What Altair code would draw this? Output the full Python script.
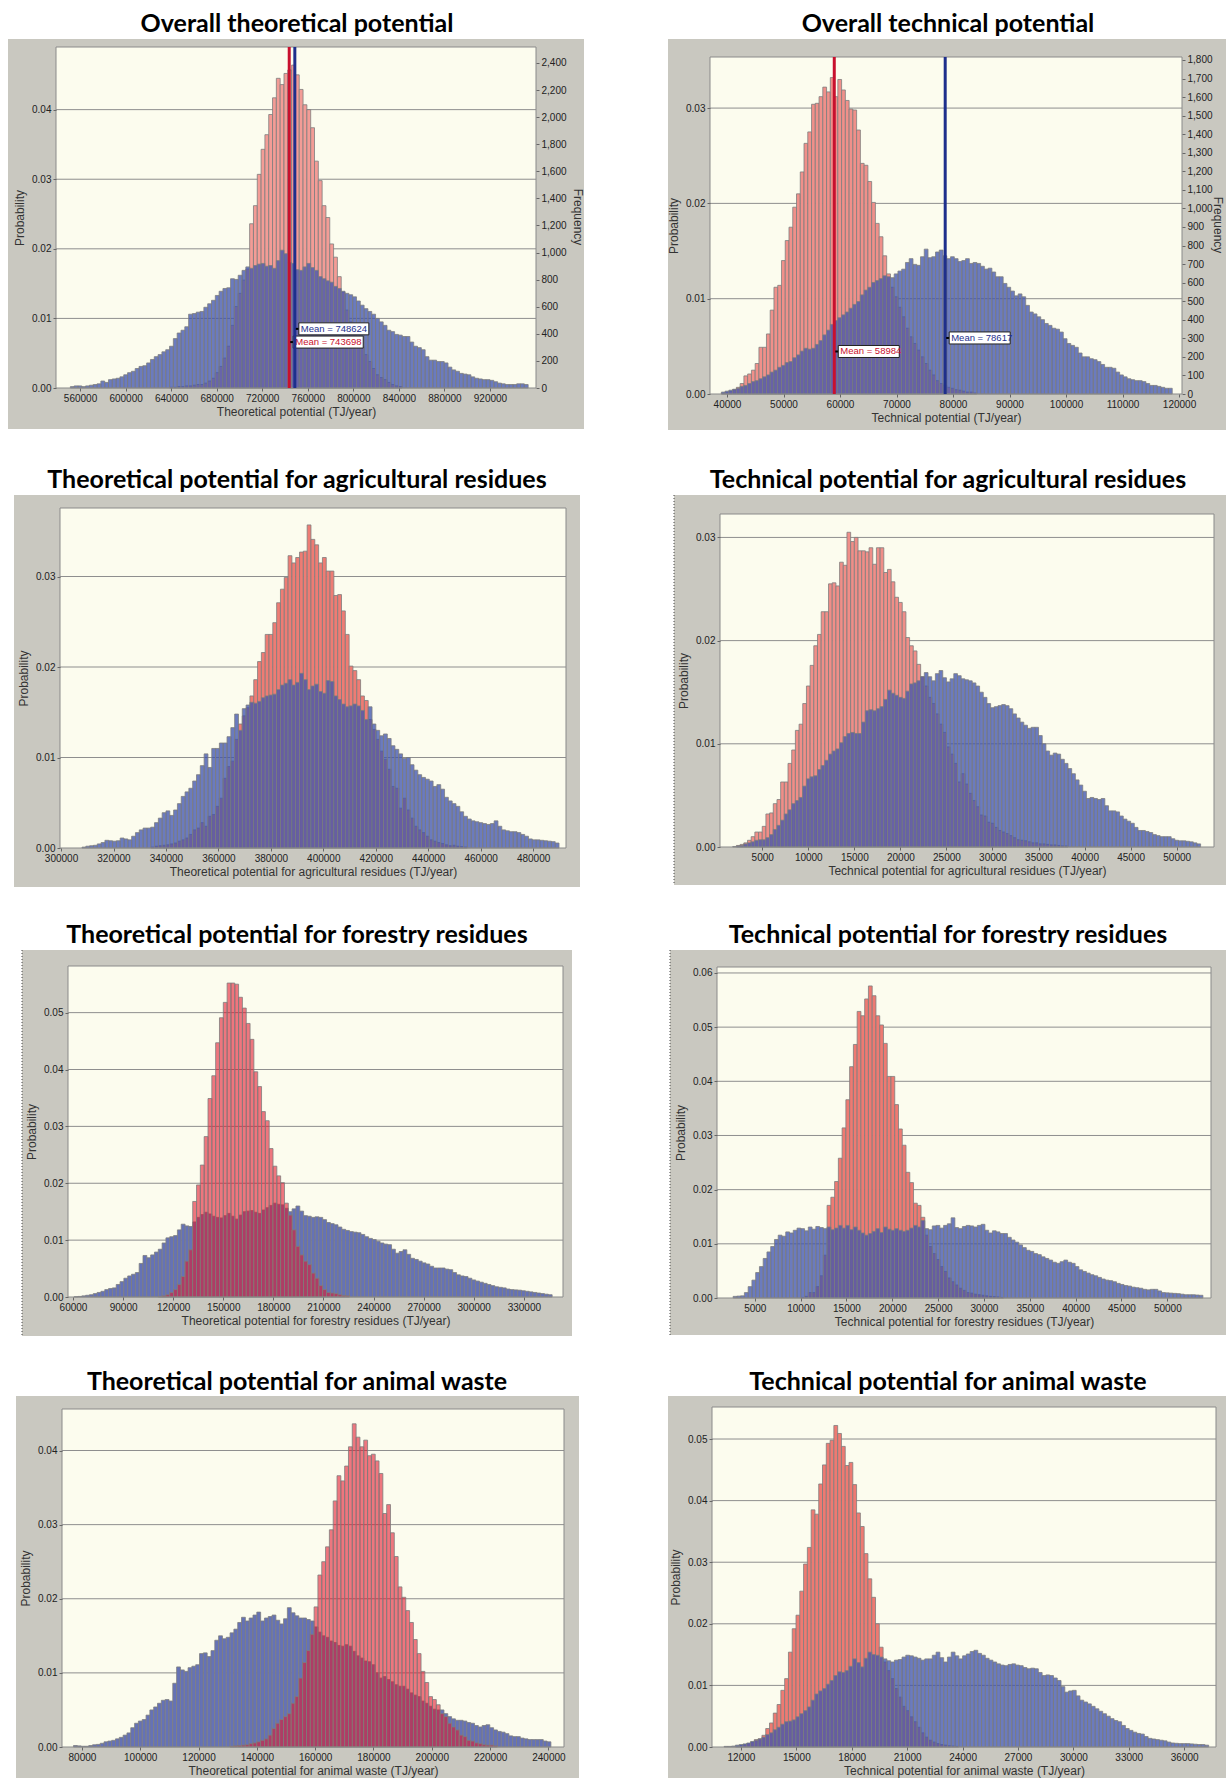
import altair as alt
import pandas as pd

# ------------------------------------------------------------------ data
titles = ["Overall theoretical potential", "Overall technical potential",
          "Theoretical potential for agricultural residues", "Technical potential for agricultural residues",
          "Theoretical potential for forestry residues", "Technical potential for forestry residues",
          "Theoretical potential for animal waste", "Technical potential for animal waste"]
x_titles = ["Theoretical potential (TJ/year)", "Technical potential (TJ/year)",
            "Theoretical potential for agricultural residues (TJ/year)",
            "Technical potential for agricultural residues (TJ/year)",
            "Theoretical potential for forestry residues (TJ/year)",
            "Technical potential for forestry residues (TJ/year)",
            "Theoretical potential for animal waste (TJ/year)",
            "Technical potential for animal waste (TJ/year)"]

# histogram bins (TJ/year): first bin edge, bin width, first bin of the red series
bin_start = [551500, 39000, 308000, 1800, 60700, 2636, 77110, 11088]
bin_width = [3350, 665, 1455, 400, 2290, 410, 1310, 205]
red_first_bin = [26, 0, 18, 1, 22, 18, 41, 3]

# probabilities per bin, in per-mille
blue_1 = [0.2,0.3,0.3,0.2,0.3,0.4,0.5,0.6,1.0,0.8,1.2,1.3,1.4,1.6,1.9,2.2,2.4,2.8,3.1,3.2,
          3.6,4.1,4.5,4.8,5.2,5.5,6.0,7.1,7.9,8.3,8.8,10.6,10.7,10.9,11.0,11.6,12.1,12.6,13.3,13.9,
          14.3,14.4,15.7,15.6,16.2,16.9,17.4,17.2,17.6,17.8,17.9,17.5,17.6,17.2,18.3,19.8,19.3,18.0,17.9,17.0,
          16.9,17.4,17.9,17.3,16.9,16.0,15.7,15.4,15.2,14.6,14.3,13.9,13.6,13.4,13.1,12.5,11.9,11.4,11.0,10.6,
          10.0,9.5,9.0,8.3,8.1,7.7,7.6,7.4,7.4,6.6,6.0,5.8,5.5,4.5,4.0,4.0,3.8,3.8,3.6,3.0,
          2.6,2.4,2.1,2.0,1.9,1.6,1.4,1.3,1.2,1.2,1.1,0.9,0.7,0.6,0.5,0.5,0.5,0.6,0.6,0.5]
red_1 = [0.1,0.1,0.2,0.2,0.3,0.3,0.4,0.5,0.5,0.7,1.0,1.4,2.2,3.1,4.3,6.0,9.0,11.7,13.6,15.5,
         17.1,23.6,26.2,30.7,34.3,36.4,39.3,41.7,44.5,43.6,45.2,45.7,46.4,45.0,42.9,40.7,40.0,37.4,32.6,29.8,
         26.2,24.5,20.7,18.8,16.0,13.8,11.2,9.5,8.3,7.0,6.0,4.8,3.8,2.8,1.9,1.5,1.2,0.8,0.5,0.3,0.2]
blue_2 = [0.2,0.3,0.4,0.5,0.6,0.8,0.9,1.1,1.3,1.4,1.6,1.8,2.0,2.3,2.5,2.8,3.0,3.3,3.4,3.8,
          4.1,4.5,4.8,4.7,4.8,5.2,5.6,6.2,6.7,7.3,7.7,8.0,8.3,8.6,9.0,9.4,9.7,10.4,10.9,11.2,
          11.7,11.9,12.1,12.4,12.3,12.2,12.6,12.9,13.1,13.8,14.2,13.6,13.5,14.4,15.2,14.3,14.4,14.9,15.1,14.5,
          14.2,14.4,14.2,13.9,14.0,14.2,13.7,13.8,13.7,13.4,13.1,13.2,12.8,12.3,12.3,11.6,11.2,10.8,10.3,10.5,
          10.2,9.3,8.6,8.4,8.1,7.8,7.4,7.2,6.9,6.8,6.5,5.8,5.3,5.1,4.9,4.3,3.9,3.9,3.7,3.6,
          3.4,3.1,2.8,2.8,2.7,2.3,2.0,1.8,1.6,1.5,1.4,1.4,1.3,1.1,0.9,0.9,0.8,0.7,0.6,0.6]
red_2 = [0.1,0.2,0.3,0.45,0.7,1.1,1.9,2.1,2.5,3.2,4.9,4.9,6.3,8.8,11.2,11.4,14.0,16.1,17.5,19.6,
         21.0,23.3,26.3,27.5,30.4,30.5,31.2,32.2,31.7,33.2,31.2,33.0,31.9,30.8,29.9,29.8,27.7,24.2,24.0,22.3,
         20.1,17.9,16.5,14.5,12.6,11.2,10.2,9.1,8.1,6.9,6.0,5.3,4.6,3.9,3.2,2.5,2.0,1.4,1.1,0.9,
         0.7,0.6,0.45,0.4,0.3,0.2,0.2,0.1]
blue_3 = [0.1,0.2,0.25,0.3,0.45,0.6,0.85,0.8,0.75,0.8,1.1,1.0,0.9,1.3,1.7,2.0,2.2,2.2,2.3,2.8,
          3.3,3.9,4.1,3.6,4.2,4.9,5.7,6.2,6.6,7.4,8.1,9.1,10.4,8.9,11.0,11.0,11.6,11.6,12.3,13.3,
          14.8,13.0,15.4,15.8,16.1,16.0,16.2,16.6,16.8,16.9,17.0,17.5,18.0,18.2,18.6,18.0,18.3,19.3,18.6,17.5,
          17.9,18.1,17.3,17.1,18.5,18.4,16.8,16.4,15.9,15.6,15.7,15.9,15.7,15.2,14.2,15.6,13.7,13.0,12.4,12.6,
          12.1,11.3,10.9,10.4,9.9,10.0,9.2,8.6,8.1,7.8,7.6,7.4,6.8,7.0,6.5,5.6,5.2,4.9,4.6,4.0,
          3.5,3.2,3.0,2.9,2.8,2.7,2.6,2.7,3.0,2.4,2.0,1.9,1.8,1.8,1.7,1.5,1.3,1.0,0.9,0.9,
          0.85,0.8,0.75,0.7,0.55]
red_3 = [0.1,0.2,0.25,0.3,0.35,0.45,0.55,0.75,0.9,1.1,1.5,2.0,2.2,2.8,2.4,3.5,3.7,4.6,5.5,7.7,
         9.0,9.6,12.0,13.7,14.6,15.5,16.8,18.6,20.6,21.6,23.6,23.6,24.9,27.1,28.6,29.9,32.3,31.5,32.1,32.7,
         32.8,35.7,34.1,33.5,31.5,32.1,30.6,30.6,27.9,28.0,26.2,23.6,20.1,19.6,18.6,16.8,16.3,14.2,13.1,12.0,
         10.7,9.8,8.7,6.8,6.6,4.4,5.5,4.2,3.3,2.4,2.0,1.7,1.3,0.9,0.75,0.6,0.5,0.35,0.25,0.3,
         0.2,0.15,0.1]
blue_4 = [0.05,0.1,0.15,0.3,0.4,0.5,0.65,0.7,0.7,0.9,1.2,1.7,2.1,2.6,3.2,3.6,4.2,4.5,4.8,5.9,
          6.6,6.8,6.9,7.5,7.9,8.4,9.0,9.3,9.5,10.1,10.7,11.0,11.1,11.0,11.0,12.1,13.2,13.3,13.2,13.4,
          13.6,14.3,15.2,14.9,14.7,14.5,14.4,15.1,15.8,15.9,16.1,16.5,16.9,16.5,16.1,16.8,17.1,16.4,16.0,16.3,
          16.8,16.6,16.3,16.2,16.1,15.9,15.6,15.0,14.5,13.9,13.5,13.6,13.7,13.8,13.7,13.4,12.9,12.5,12.1,11.8,
          11.5,11.6,11.6,10.8,10.0,9.3,8.9,9.1,9.0,8.5,8.1,7.6,7.1,6.5,6.0,5.4,4.7,4.8,4.7,4.6,
          4.7,4.0,3.5,3.5,3.4,3.0,2.7,2.5,2.3,1.9,1.6,1.6,1.5,1.4,1.2,1.1,1.0,1.0,1.0,0.8,
          0.65,0.6,0.6,0.55,0.5,0.4,0.3]
red_4 = [0.15,0.25,0.4,0.65,1.0,1.45,1.45,2.0,3.2,3.3,4.2,4.6,6.3,6.3,8.1,9.4,11.3,11.9,13.9,15.6,
         17.6,19.5,20.6,22.8,22.8,25.5,25.6,25.3,27.6,27.3,30.5,29.6,30.0,28.7,28.7,28.6,29.0,27.4,29.0,29.0,
         26.6,26.9,25.7,24.2,23.7,22.8,20.3,19.5,19.0,17.7,16.5,15.6,14.5,13.9,12.9,11.9,11.1,9.7,9.0,8.1,
         6.3,7.1,6.1,5.2,4.5,3.9,3.1,3.0,2.4,2.3,1.9,1.6,1.45,1.3,1.1,0.9,0.7,0.65,0.6,0.5,
         0.4,0.4,0.3,0.3,0.25,0.2,0.2,0.15,0.1,0.1]
blue_5 = [0.05,0.1,0.2,0.3,0.4,0.6,0.8,1.0,1.3,1.5,1.6,2.2,2.7,3.3,3.7,4.0,4.3,5.9,7.3,6.9,
          7.4,7.9,8.4,9.5,10.4,10.6,10.8,11.8,12.8,12.5,12.4,13.2,14.0,14.5,14.9,14.6,14.2,14.0,13.9,14.3,
          14.7,14.2,13.7,14.4,15.0,15.1,15.2,14.9,14.7,15.3,15.7,16.1,16.5,16.3,16.2,15.6,15.0,15.5,16.0,15.1,
          14.3,14.2,14.0,14.1,14.0,13.6,13.1,12.9,12.7,12.3,11.9,11.7,11.5,11.4,11.3,11.0,10.6,10.3,10.1,9.8,
          9.5,9.3,9.2,8.4,7.7,8.0,8.3,7.5,6.8,6.6,6.3,6.0,5.8,5.4,5.1,5.1,5.1,4.9,4.8,4.3,
          3.9,3.7,3.6,3.3,3.0,2.8,2.6,2.4,2.2,2.0,1.8,1.7,1.6,1.4,1.3,1.25,1.2,1.1,1.0,0.9,
          0.8,0.7,0.6,0.5,0.4]
red_5 = [0.1,0.2,0.4,0.8,1.3,2.2,3.6,6.3,8.3,16.8,19.7,23.2,28.2,34.9,38.9,44.7,49.1,51.8,55.2,55.2,
         55.0,52.7,50.8,48.1,45.3,39.6,37.0,32.6,31.0,26.1,23.0,21.3,20.1,16.5,14.4,11.8,8.9,7.4,6.3,5.7,
         4.2,3.3,2.0,1.3,0.8,0.7,0.6,0.4,0.25,0.2]
blue_6 = [0.3,0.35,0.4,1.0,2.1,3.3,4.7,5.8,7.3,8.5,9.5,10.8,11.6,11.4,12.2,12.0,12.5,12.9,12.8,12.4,
          13.1,12.7,13.2,13.0,12.8,13.1,12.6,12.9,13.4,12.9,13.4,12.6,13.1,12.5,12.0,11.6,11.9,12.3,12.8,12.1,
          13.1,12.7,12.5,12.8,12.5,12.3,12.5,12.9,13.4,13.1,14.3,12.8,12.6,13.3,13.4,12.9,13.4,13.7,14.8,13.0,
          12.8,13.2,13.4,13.3,13.1,13.4,13.6,12.5,12.0,12.4,12.2,11.9,11.9,11.2,10.7,10.3,9.8,9.3,8.8,8.6,
          8.2,8.0,7.6,7.3,7.0,6.6,6.4,6.7,7.0,6.6,6.4,5.8,5.2,4.9,4.6,4.3,4.1,3.8,3.5,3.3,
          3.2,3.0,2.7,2.5,2.3,2.2,2.0,1.9,1.8,1.6,1.5,1.6,1.6,1.3,1.0,0.95,0.9,0.85,0.8,0.7,
          0.6,0.6,0.6,0.55,0.5]
red_6 = [0.1,0.3,1.0,1.0,2.1,4.1,7.9,17.1,18.6,21.5,25.8,31.4,36.6,42.7,46.8,52.9,52.1,55.2,57.6,55.8,
         52.1,50.4,47.0,40.9,40.9,35.7,31.2,28.2,23.2,21.3,17.5,17.1,14.9,11.6,9.5,8.2,7.1,5.8,4.9,3.7,
         3.0,2.4,1.8,1.4,1.0,0.9,0.7,0.6,0.5,0.4,0.3,0.25,0.2,0.1]
blue_7 = [0.2,0.15,0.1,0.1,0.2,0.3,0.35,0.5,0.7,0.8,0.9,1.1,1.3,1.6,1.9,2.6,3.2,3.5,3.7,4.3,
          5.0,5.4,5.9,6.3,6.4,6.2,8.6,10.8,10.4,10.2,10.7,10.9,11.1,12.6,12.7,12.2,13.0,14.4,15.0,14.6,
          14.8,15.4,15.9,16.8,17.5,17.0,17.4,17.8,18.2,17.0,17.4,17.6,17.8,17.1,16.6,17.3,18.8,18.1,17.7,17.4,
          17.4,17.2,17.0,16.2,15.5,15.0,14.8,14.3,14.1,13.7,13.6,13.8,13.6,12.9,12.3,12.0,11.6,11.5,11.1,10.0,
          9.3,9.5,9.1,8.8,8.4,8.2,8.2,7.8,7.3,7.0,6.8,6.2,5.9,5.5,5.1,5.0,5.0,4.5,4.1,3.8,
          3.6,3.6,3.5,3.3,3.2,2.9,2.7,2.9,3.0,2.6,2.3,2.1,2.0,1.8,1.5,1.4,1.4,1.2,1.1,1.0,
          1.0,1.0,1.0,0.8,0.7]
red_7 = [0.1,0.15,0.2,0.25,0.3,0.45,0.55,0.7,0.9,1.1,1.6,2.5,3.2,3.7,4.1,4.5,5.9,6.8,9.3,11.4,
         13.0,15.2,18.9,23.2,25.0,27.0,29.3,33.2,36.6,35.9,37.9,40.5,43.6,41.8,40.5,41.4,39.3,39.5,38.6,36.9,
         31.5,32.7,28.9,25.7,21.6,20.2,18.4,16.8,14.5,12.6,10.2,8.7,6.8,6.4,5.7,4.5,4.1,3.2,2.7,2.3,
         1.6,1.4,0.9,0.8,0.55,0.45,0.3,0.25,0.25,0.15]
blue_8 = [0.1,0.1,0.15,0.3,0.4,0.5,0.65,0.9,1.1,1.3,1.6,2.0,2.3,2.8,3.2,3.7,4.1,4.2,4.4,4.9,
          5.4,5.9,6.5,7.6,8.6,9.1,9.5,10.2,10.8,11.6,12.2,12.1,12.4,13.1,14.3,13.7,13.0,14.4,15.4,15.0,
          14.9,14.6,14.3,14.0,13.8,14.1,14.2,14.6,14.9,14.8,14.6,14.4,14.1,14.3,14.3,14.9,15.4,14.5,13.8,14.6,
          15.4,14.8,14.3,14.8,15.1,15.5,15.7,15.2,14.9,14.4,14.1,13.8,13.5,13.3,13.2,13.4,13.5,13.3,13.2,12.9,
          12.7,12.8,12.7,12.1,11.6,11.7,11.6,11.2,10.8,9.8,8.9,9.1,9.2,8.3,7.6,7.3,7.0,6.6,6.2,5.8,
          5.4,5.0,4.6,4.3,4.1,3.5,3.0,2.7,2.4,2.2,2.1,1.7,1.4,1.3,1.2,1.1,1.0,0.8,0.65,0.6,
          0.55,0.55,0.55,0.5,0.45,0.4,0.4,0.3]
red_8 = [0.15,0.25,0.4,0.55,0.8,1.2,1.35,1.9,3.0,3.9,5.5,6.9,9.2,11.1,15.4,19.2,21.4,25.3,29.7,32.4,
         38.5,37.8,42.7,45.8,49.3,49.8,52.2,50.9,48.8,45.7,46.2,42.6,38.0,35.8,31.4,27.3,24.3,20.0,16.2,13.8,
         12.4,11.1,9.5,8.1,6.6,5.9,4.9,4.1,3.2,2.3,1.6,1.1,0.8,0.55,0.4,0.3,0.2,0.15,0.1]
blue_series = [blue_1, blue_2, blue_3, blue_4, blue_5, blue_6, blue_7, blue_8]
red_series = [red_1, red_2, red_3, red_4, red_5, red_6, red_7, red_8]

x_domain = [[538900, 960400], [36988, 120530], [299600, 492540], [414, 54053],
            [57000, 353460], [876, 54768], [73168, 245355], [10434, 37724]]
x_ticks = [[560000, 600000, 640000, 680000, 720000, 760000, 800000, 840000, 880000, 920000],
           [40000, 50000, 60000, 70000, 80000, 90000, 100000, 110000, 120000],
           [300000, 320000, 340000, 360000, 380000, 400000, 420000, 440000, 460000, 480000],
           [5000, 10000, 15000, 20000, 25000, 30000, 35000, 40000, 45000, 50000],
           [60000, 90000, 120000, 150000, 180000, 210000, 240000, 270000, 300000, 330000],
           [5000, 10000, 15000, 20000, 25000, 30000, 35000, 40000, 45000, 50000],
           [80000, 100000, 120000, 140000, 160000, 180000, 200000, 220000, 240000],
           [12000, 15000, 18000, 21000, 24000, 27000, 30000, 33000, 36000]]
y_max = [0.049, 0.03536, 0.03757, 0.03227, 0.0582, 0.0611, 0.0456, 0.0552]
y_ticks = [[0, 0.01, 0.02, 0.03, 0.04], [0, 0.01, 0.02, 0.03], [0, 0.01, 0.02, 0.03],
           [0, 0.01, 0.02, 0.03], [0, 0.01, 0.02, 0.03, 0.04, 0.05],
           [0, 0.01, 0.02, 0.03, 0.04, 0.05, 0.06], [0, 0.01, 0.02, 0.03, 0.04],
           [0, 0.01, 0.02, 0.03, 0.04, 0.05]]
freq_max = {0: 2518, 1: 1816}
freq_ticks = {0: [0, 200, 400, 600, 800, 1000, 1200, 1400, 1600, 1800, 2000, 2200, 2400],
              1: [0, 100, 200, 300, 400, 500, 600, 700, 800, 900, 1000, 1100, 1200, 1300,
                  1400, 1500, 1600, 1700, 1800]}
# means: (red, blue) and the probability level of their labels
mean_values = {0: (743698, 748624), 1: (58984, 78617)}
mean_label_level = {0: (0.0066, 0.0085), 1: (0.00446, 0.00588)}

# ------------------------------------------------------------------ layout (page pixels)
PLOT = [(56, 47, 536, 388), (710, 57, 1182, 394), (60, 508, 566, 848), (720, 514, 1214, 847),
        (68, 966, 563, 1297), (717, 967, 1211, 1298), (62, 1409, 564, 1747), (712, 1407, 1216, 1747)]
FRAME = [(8, 39, 584, 429), (668, 39, 1226, 430), (14, 495, 580, 887), (674, 495, 1226, 885),
         (22, 950, 572, 1336), (670, 950, 1226, 1335), (16, 1396, 579, 1778), (668, 1396, 1226, 1778)]
TITLE_POS = [(297, 32), (948, 32), (297, 488), (948, 488), (297, 943), (948, 943), (297, 1390), (948, 1390)]
DOTTED = [False, False, False, True, True, True, False, False]
FREQ_TITLE = {0: (578, 217), 1: (1218, 225)}
COL_X = [56, 710]
ROW_Y = [47, 500, 953, 1406]
CELL_W, CELL_H = 510, 348

FRAME_FILL = "#C9C8C0"
PLOT_FILL = "#FCFCEE"
GRID = "#8E8E8E"
BAR_STROKE = "#7E7E7E"
red_on_top = [False, False, False, False, True, False, True, False]
red_fill = ["#F39C96", "#F0908A", "#EE7C74", "#F08E88", "#E4142D", "#EE7A72", "#E4142D", "#EE7A72"]
BLUE_TOP, BLUE_TOP_OP = "#3E53B0", 0.77
BLUE_BOTTOM = "#6572B6"
RED_TOP_OP = 0.58
LINE_RED, LINE_BLUE = "#C8102E", "#1E2F8C"

FONT = "Liberation Sans"


def bars_df(start, w, first, vals):
    rows = []
    for k, v in enumerate(vals):
        x0 = start + (first + k) * w
        rows.append({"x0": x0, "x1": x0 + w, "p": v / 1000.0, "z": 0.0})
    return pd.DataFrame(rows)


one = pd.DataFrame({"a": [1]})


def make_panel(i):
    c, r = i % 2, i // 2
    cx, cy = COL_X[c], ROW_Y[r]
    px0, py0, px1, py1 = PLOT[i]
    xr = [px0 - cx, px1 - cx]
    yr = [py1 - cy, py0 - cy]
    xs = alt.Scale(domain=x_domain[i], range=xr, nice=False, zero=False)
    ys = alt.Scale(domain=[0, y_max[i]], range=yr, nice=False, zero=False)
    ax_x = alt.Axis(title=x_titles[i], values=x_ticks[i], format="d", orient="bottom",
                    offset=-(CELL_H - yr[0]), grid=False, domain=False, labelFlush=False,
                    labelOverlap=False, tickSize=3, tickColor="#666666", labelFontSize=10,
                    labelFont=FONT, labelColor="#222222", titleFont=FONT, titleFontSize=12,
                    titleFontWeight="normal", titleColor="#333333", labelPadding=2,
                    titlePadding=3, zindex=1)
    ax_y = alt.Axis(title="Probability", values=y_ticks[i], format=".2f", orient="left",
                    offset=-xr[0], grid=False, domain=False, labelFlush=False,
                    labelOverlap=False, tickSize=3, tickColor="#666666", labelFontSize=10,
                    labelFont=FONT, labelColor="#222222", titleFont=FONT, titleFontSize=12,
                    titleFontWeight="normal", titleColor="#333333", labelPadding=2,
                    titlePadding=5, zindex=1)

    fx0, fy0, fx1, fy1 = FRAME[i]
    layers = []
    if i == 0:
        # white anchor at the page's top-left corner
        layers.append(alt.Chart(one).mark_rect(fill="white").encode(
            x=alt.value(-cx), x2=alt.value(-cx + 2), y=alt.value(-cy), y2=alt.value(-cy + 2)))
    layers.append(alt.Chart(one).mark_rect(fill=FRAME_FILL).encode(
        x=alt.value(fx0 - cx), x2=alt.value(fx1 - cx), y=alt.value(fy0 - cy), y2=alt.value(fy1 - cy)))
    if DOTTED[i]:
        layers.append(alt.Chart(one).mark_rule(color="#444444", strokeDash=[1, 2], strokeWidth=1).encode(
            x=alt.value(fx0 - cx), y=alt.value(fy0 - cy), y2=alt.value(fy1 - cy)))
    layers.append(alt.Chart(one).mark_rect(fill=PLOT_FILL).encode(
        x=alt.value(xr[0]), x2=alt.value(xr[1]), y=alt.value(yr[1]), y2=alt.value(yr[0])))
    grid_df = pd.DataFrame({"g": [t for t in y_ticks[i] if t > 0]})
    layers.append(alt.Chart(grid_df).mark_rule(color=GRID, strokeWidth=1).encode(
        y=alt.Y("g:Q", scale=ys, axis=ax_y), x=alt.value(xr[0]), x2=alt.value(xr[1])))

    blue_df = bars_df(bin_start[i], bin_width[i], 0, blue_series[i])
    red_df = bars_df(bin_start[i], bin_width[i], red_first_bin[i], red_series[i])

    def bar_layer(df, fill, op):
        return alt.Chart(df).mark_rect(fill=fill, fillOpacity=op, stroke=BAR_STROKE,
                                       strokeWidth=0.8).encode(
            x=alt.X("x0:Q", scale=xs, axis=ax_x), x2="x1",
            y=alt.Y("p:Q", scale=ys, axis=ax_y), y2="z")

    if red_on_top[i]:
        layers.append(bar_layer(blue_df, BLUE_BOTTOM, 1.0))
        layers.append(bar_layer(red_df, red_fill[i], RED_TOP_OP))
    else:
        layers.append(bar_layer(red_df, red_fill[i], 1.0))
        layers.append(bar_layer(blue_df, BLUE_TOP, BLUE_TOP_OP))

    # plot border
    layers.append(alt.Chart(one).mark_rect(fillOpacity=0, stroke="#8A8A8A", strokeWidth=1).encode(
        x=alt.value(xr[0]), x2=alt.value(xr[1]), y=alt.value(yr[1]), y2=alt.value(yr[0])))

    if i in mean_values:
        rm, bm = mean_values[i]
        rl, bl = mean_label_level[i]
        for m, lvl, col in [(rm, rl, LINE_RED), (bm, bl, LINE_BLUE)]:
            mdf = pd.DataFrame({"m": [m], "ly": [lvl], "txt": [f"Mean = {m}"]})
            layers.append(alt.Chart(mdf).mark_rule(color=col, strokeWidth=3).encode(
                x=alt.X("m:Q", scale=xs, axis=ax_x), y=alt.value(yr[1]), y2=alt.value(yr[0])))
            layers.append(alt.Chart(mdf).mark_rule(color="black", strokeWidth=2, xOffset=1,
                                                   x2Offset=5).encode(
                x=alt.X("m:Q", scale=xs, axis=ax_x), x2="m",
                y=alt.Y("ly:Q", scale=ys, axis=ax_y)))
            box_w = 70 if i == 0 else 61
            layers.append(alt.Chart(mdf).mark_rect(fill="white", stroke="#222222", strokeWidth=1,
                                                   xOffset=4, x2Offset=4 + box_w, yOffset=-6,
                                                   y2Offset=6).encode(
                x=alt.X("m:Q", scale=xs, axis=ax_x), x2="m",
                y=alt.Y("ly:Q", scale=ys, axis=ax_y), y2="ly"))
            layers.append(alt.Chart(mdf).mark_text(align="left", baseline="middle", dx=6,
                                                   font=FONT, fontSize=9.5, color=col).encode(
                x=alt.X("m:Q", scale=xs, axis=ax_x), y=alt.Y("ly:Q", scale=ys, axis=ax_y),
                text="txt:N"))
        ftx, fty = FREQ_TITLE[i]
        layers.append(alt.Chart(one).mark_text(angle=90, align="center", baseline="middle",
                                               font=FONT, fontSize=12, color="#333333").encode(
            x=alt.value(ftx - cx), y=alt.value(fty - cy), text=alt.value("Frequency")))

    tx, ty = TITLE_POS[i]
    layers.append(alt.Chart(one).mark_text(font="Lato", fontWeight="bold", fontSize=25,
                                           align="center", baseline="alphabetic",
                                           color="black").encode(
        x=alt.value(tx - cx), y=alt.value(ty - cy), text=alt.value(titles[i])))

    main = alt.layer(*layers)
    if i in freq_max:
        fdf = pd.DataFrame({"f": [0]})
        freq = alt.Chart(fdf).mark_point(opacity=0).encode(
            y=alt.Y("f:Q", scale=alt.Scale(domain=[0, freq_max[i]], range=yr, nice=False, zero=False),
                    axis=alt.Axis(orient="right", values=freq_ticks[i], format=",d", title=None,
                                  offset=-(CELL_W - xr[1]), grid=False, domain=False,
                                  labelFlush=False, labelOverlap=False, tickSize=3,
                                  tickColor="#666666", labelFontSize=10, labelFont=FONT,
                                  labelColor="#222222", labelPadding=2, zindex=1)))
        panel = alt.layer(main, freq).resolve_scale(y="independent")
    else:
        panel = main
    return panel.properties(width=CELL_W, height=CELL_H)


panels = [make_panel(i) for i in range(8)]
chart = alt.concat(*panels, columns=2, spacing={"row": ROW_Y[1] - ROW_Y[0] - CELL_H,
                                                 "column": COL_X[1] - COL_X[0] - CELL_W},
                   bounds="flush").properties(padding=0).configure_view(strokeWidth=0)

chart.save("out.html", embed_options={"renderer": "svg", "actions": False})
